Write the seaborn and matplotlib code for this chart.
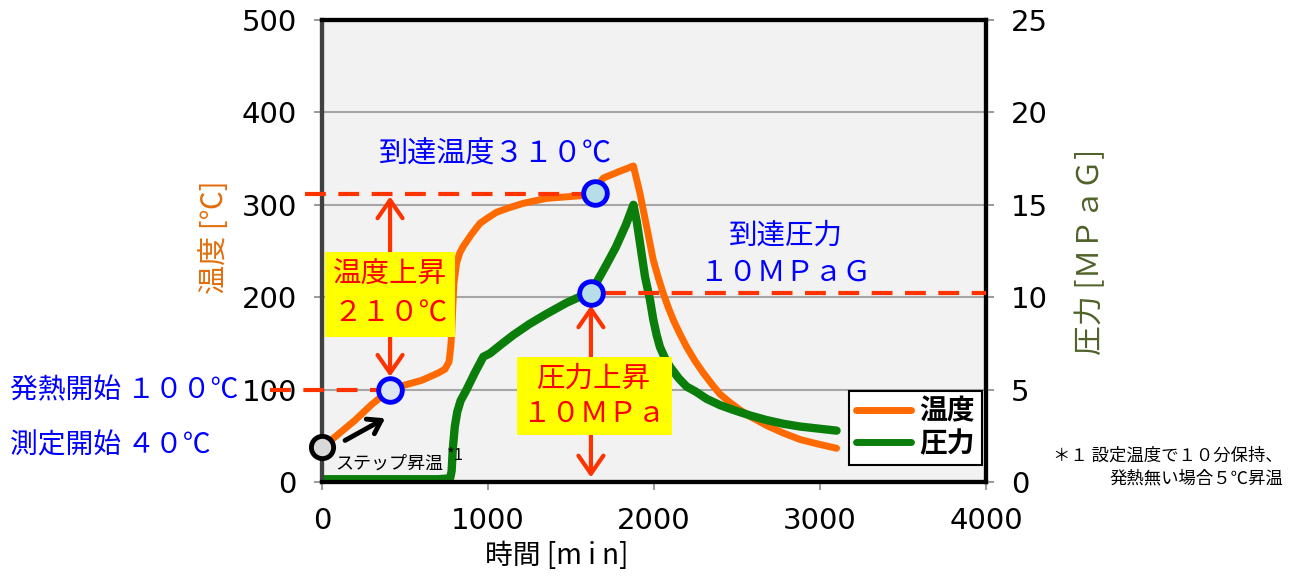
import matplotlib
matplotlib.use("Agg")
import matplotlib.pyplot as plt
import seaborn as sns
from matplotlib.lines import Line2D

# temperature curve [min, degC]
time_temp = [0, 100, 200, 300, 410, 500, 600, 651, 700, 740, 765, 775, 781, 788,
             795, 811, 830, 851, 900, 952, 1000, 1052, 1130, 1213, 1353, 1500,
             1640, 1665, 1695, 1790, 1876, 1896, 1916, 1936, 1956, 1976, 1996,
             2026, 2056, 2086, 2117, 2157, 2197, 2247, 2297, 2348, 2398, 2458,
             2518, 2578, 2680, 2779, 2880, 2990, 3100]
temp = [37, 52, 67, 84, 100, 105, 110, 114, 118, 122, 130, 145, 160, 190,
        215, 237, 248, 255, 268, 280, 286, 292, 297, 301.6, 307, 309,
        311, 322, 329, 336, 342, 327, 312, 294, 276, 258, 240,
        221, 204, 189, 175, 160, 146, 131, 118, 106, 95, 86,
        78, 71, 61, 53, 46, 41, 36.5]

# pressure curve [min, MPaG]
time_pres = [0, 700, 772, 781, 788, 800, 815, 835, 871, 920, 972, 1012, 1080, 1152,
             1250, 1353, 1474, 1560, 1620, 1660, 1710, 1770, 1830, 1876, 1896,
             1916, 1946, 1976, 1996, 2016, 2036, 2066, 2096, 2150, 2197, 2250,
             2317, 2400, 2478, 2579, 2679, 2780, 2880, 3000, 3100]
pres = [0.15, 0.15, 0.2, 0.6, 1.8, 3.0, 3.8, 4.4, 5.0, 5.9, 6.78, 6.96, 7.45, 7.95,
        8.55, 9.1, 9.7, 10.05, 10.25, 10.9, 11.7, 12.7, 13.9, 15.0, 14.1,
        12.9, 11.1, 9.85, 8.77, 7.95, 7.3, 6.7, 6.24, 5.6, 5.16, 4.9,
        4.5, 4.15, 3.9, 3.6, 3.35, 3.15, 3.0, 2.88, 2.78]

# key points
start_pt = (0, 38)            # measurement start, degC
exo_pt = (410, 100)           # exotherm start, degC
peak_temp_pt = (1645, 313)    # reached temperature, degC
peak_pres_pt = (1620, 10.25)  # reached pressure, MPaG

ORANGE = '#ff6a00'
GREEN = '#0a7d0a'
RED = '#ff3300'
BLUE = '#0000ff'

plt.rcParams['font.family'] = ['Noto Sans CJK JP', 'DejaVu Sans']

fig = plt.figure(figsize=(12.93, 5.79), dpi=100)
ax = fig.add_axes([322/1293, 1-482/579, 664/1293, 462/579])
ax.set_facecolor('#f2f2f2')
ax2 = ax.twinx()

sns.lineplot(x=time_temp, y=temp, ax=ax, color=ORANGE, linewidth=5,
             estimator=None, solid_capstyle='round', solid_joinstyle='round')
sns.lineplot(x=time_pres, y=pres, ax=ax2, color=GREEN, linewidth=6,
             estimator=None, solid_capstyle='round', solid_joinstyle='round')

ax.set_xlim(0, 4000)
ax.set_ylim(0, 500)
ax2.set_ylim(0, 25)
ax.set_xticks(range(0, 4001, 1000))
ax.set_yticks(range(0, 501, 100))
ax2.set_yticks(range(0, 26, 5))
ax.grid(axis='y', color='#a6a6a6', linewidth=1.5)
ax.set_axisbelow(True)

for a in (ax, ax2):
    a.tick_params(axis='both', direction='out', length=6, width=1.2,
                  color='#888888', labelsize=21, pad=12)
    for s in ('top', 'right', 'bottom'):
        a.spines[s].set_color('black')
        a.spines[s].set_linewidth(3)
    a.spines['left'].set_color('#404040')
    a.spines['left'].set_linewidth(3)
for lab in ax.get_xticklabels() + ax.get_yticklabels() + ax2.get_yticklabels():
    lab.set_family('DejaVu Sans')

ax.set_xlabel('時間 [m i n]', fontsize=20)
ax.xaxis.set_label_coords(0.354, -0.128)
ax.set_ylabel('温度 [℃]', fontsize=21, color='#e46c0a')
ax.yaxis.set_label_coords(-0.139, 0.53)
ax2.set_ylabel('圧力 [ＭＰａＧ]', fontsize=21.5, color='#4f6228', rotation=90)
ax2.yaxis.set_label_coords(1.134, 0.498)


def p(t):
    # degC -> pressure axis units
    return t / 20.0


# dashed guide lines
dash = dict(color=RED, linewidth=3, dashes=(5, 3), clip_on=False, zorder=3)
ax2.plot([-102, peak_temp_pt[0]], [p(312), p(312)], **dash)
ax2.plot([-313, 350], [p(100), p(100)], **dash)
ax2.plot([1705, 4000], [10.23, 10.23], **dash)

# double arrows
arr = dict(arrowstyle='<->,head_length=1.3,head_width=0.9', color=RED, lw=3,
           shrinkA=0, shrinkB=0)
ax2.annotate('', xy=(exo_pt[0], p(309)), xytext=(exo_pt[0], p(114)), arrowprops=arr)
ax2.annotate('', xy=(peak_pres_pt[0], 9.55), xytext=(peak_pres_pt[0], 0.25), arrowprops=arr)

# step heating arrow
ax2.annotate('', xy=(380, p(69)), xytext=(139, p(45)),
             arrowprops=dict(arrowstyle='->,head_length=0.9,head_width=0.6',
                             color='black', lw=3.5, shrinkA=0, shrinkB=0))

# markers
ax2.plot(start_pt[0], p(start_pt[1]), 'o', ms=16, mfc='#d9d9d9', mec='black',
         mew=3.5, clip_on=False, zorder=6)
ax2.plot(exo_pt[0], p(exo_pt[1]), 'o', ms=17, mfc='#dce6f2', mec=BLUE,
         mew=3.5, zorder=6)
ax2.plot(peak_temp_pt[0], p(peak_temp_pt[1]), 'o', ms=17, mfc='#b7dee8', mec=BLUE,
         mew=3.5, zorder=6)
ax2.plot(peak_pres_pt[0], peak_pres_pt[1], 'o', ms=17, mfc='#b7dee8', mec=BLUE,
         mew=3.5, zorder=6)

# yellow boxes
ax2.text(410, p(203), '温度上昇\n２１０℃', color='#ff0000', fontsize=20.5,
         ha='center', va='center', linespacing=1.4, zorder=5,
         bbox=dict(boxstyle='square,pad=0.28', facecolor='#ffff00', edgecolor='none'))
ax2.text(1640, p(93), '圧力上昇\n１０ＭＰａ', color='#ff0000', fontsize=20.5,
         ha='center', va='center', linespacing=1.25, zorder=5,
         bbox=dict(boxstyle='square,pad=0.22', facecolor='#ffff00', edgecolor='none'))

# blue labels
ax2.text(1042, p(354), '到達温度３１０℃', color=BLUE, fontsize=21,
         ha='center', va='center')
ax2.text(2795, p(247), '到達圧力\n１０ＭＰａＧ', color=BLUE, fontsize=20.5,
         ha='center', va='center', linespacing=1.3)
fig.text(10/1293, 1-390/579, '発熱開始 １００℃', color=BLUE, fontsize=20,
         ha='left', va='center')
fig.text(10/1293, 1-445/579, '測定開始 ４０℃', color=BLUE, fontsize=20,
         ha='left', va='center')

ax2.text(80, p(20), 'ステップ昇温', color='black', fontsize=13,
         ha='left', va='center')
ax2.text(752, p(29), '*1', color='black', fontsize=12, ha='left', va='center')

fig.text(1283/1293, 1-467/579, '＊１ 設定温度で１０分保持、\n発熱無い場合５℃昇温',
         fontsize=12.5, ha='right', va='center', multialignment='right',
         linespacing=1.3)

# legend
handles = [Line2D([0], [0], color=ORANGE, lw=5, solid_capstyle='round'),
           Line2D([0], [0], color=GREEN, lw=5, solid_capstyle='round')]
leg = ax2.legend(handles, ['温度', '圧力'], loc='lower right',
                 bbox_to_anchor=(0.994, 0.037), borderaxespad=0,
                 prop={'size': 20, 'weight': 'bold'}, fancybox=False,
                 framealpha=1, edgecolor='black', handlelength=2.0,
                 handletextpad=0.3, labelspacing=0.15, borderpad=0.25)
leg.get_frame().set_linewidth(1.5)

fig.savefig('out.png', dpi=100)
